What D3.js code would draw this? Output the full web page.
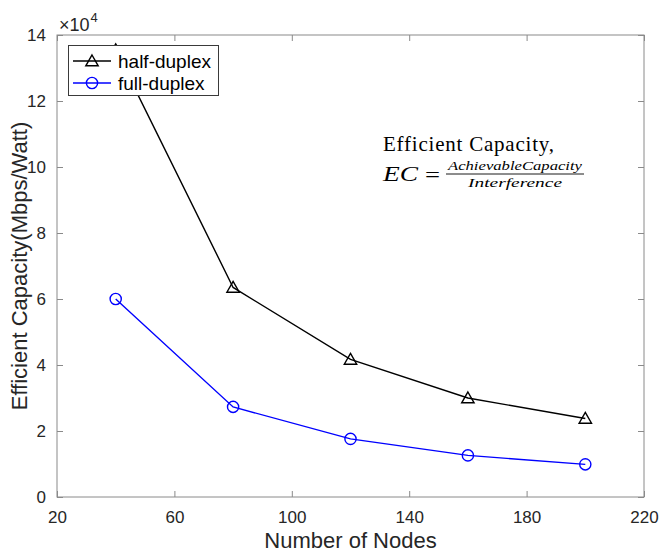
<!DOCTYPE html>
<html><head><meta charset="utf-8">
<script src="https://cdn.jsdelivr.net/npm/d3@7"></script>
<style>body{margin:0;background:#fff;} svg{display:block;}</style>
</head><body>
<script>
const nodes = [40, 80, 120, 160, 200];
const halfDuplex = [135500, 63500, 41700, 30000, 23800];
const fullDuplex = [60000, 27300, 17600, 12600, 9900];
const xTicks = [20, 60, 100, 140, 180, 220];
const yTicks = [0, 20000, 40000, 60000, 80000, 100000, 120000, 140000];
const seriesNames = ["half-duplex", "full-duplex"];

const W = 661, H = 552;
const L = 57, R = 644, T = 35, B = 497;
const svg = d3.select("body").append("svg").attr("width", W).attr("height", H);
const x = d3.scaleLinear().domain([20, 220]).range([L, R]);
const y = d3.scaleLinear().domain([0, 140000]).range([B, T]);
const axisCol = "#8a8a8a", textCol = "#262626";
const font = "'Liberation Sans', Arial, Helvetica, sans-serif";

// frame
svg.append("rect").attr("x", L).attr("y", T).attr("width", R - L).attr("height", B - T)
  .attr("fill", "none").attr("stroke", axisCol).attr("stroke-width", 1);

// axes via d3
const tl = 6;
const xb = svg.append("g").attr("transform", `translate(0,${B})`)
  .call(d3.axisBottom(x).tickValues(xTicks).tickSizeInner(-tl).tickSizeOuter(0).tickPadding(14));
const xt = svg.append("g").attr("transform", `translate(0,${T})`)
  .call(d3.axisTop(x).tickValues(xTicks).tickSizeInner(-tl).tickSizeOuter(0).tickFormat(""));
const yl = svg.append("g").attr("transform", `translate(${L},0)`)
  .call(d3.axisLeft(y).tickValues(yTicks).tickSizeInner(-tl).tickSizeOuter(0).tickPadding(11).tickFormat(d => d / 10000));
const yr = svg.append("g").attr("transform", `translate(${R},0)`)
  .call(d3.axisRight(y).tickValues(yTicks).tickSizeInner(-tl).tickSizeOuter(0).tickFormat(""));
[xb, xt, yl, yr].forEach(g => {
  g.select(".domain").remove();
  g.selectAll("line").attr("stroke", axisCol);
  g.selectAll("text").attr("fill", textCol).style("font-family", font).style("font-size", "17px");
});

// exponent
const ex = svg.append("text").attr("x", 59).attr("y", 31).attr("fill", textCol)
  .style("font-family", font).style("font-size", "18px");
ex.append("tspan").text("×10");
ex.append("tspan").attr("dy", -9).attr("dx", 1).style("font-size", "13px").text("4");

// axis labels
svg.append("text").attr("x", (L + R) / 2).attr("y", 548).attr("text-anchor", "middle")
  .attr("fill", textCol).style("font-family", font).style("font-size", "22px").text("Number of Nodes");
svg.append("text").attr("transform", `translate(27,${(T + B) / 2}) rotate(-90)`).attr("text-anchor", "middle")
  .attr("fill", textCol).style("font-family", font).style("font-size", "22px").text("Efficient Capacity(Mbps/Watt)");

// lines
const line = d3.line().x((d, i) => x(nodes[i])).y(d => y(d));
svg.append("path").datum(halfDuplex).attr("d", line).attr("fill", "none").attr("stroke", "#000").attr("stroke-width", 1.4);
svg.append("path").datum(fullDuplex).attr("d", line).attr("fill", "none").attr("stroke", "#0000ff").attr("stroke-width", 1.4);

function tri(cx, cy) { return `M${cx},${cy - 6}L${cx + 6.2},${cy + 4.8}L${cx - 6.2},${cy + 4.8}Z`; }
svg.selectAll(".tri").data(halfDuplex).enter().append("path")
  .attr("d", (d, i) => tri(x(nodes[i]), y(d))).attr("fill", "none").attr("stroke", "#000").attr("stroke-width", 1.4);
svg.selectAll(".circ").data(fullDuplex).enter().append("circle")
  .attr("cx", (d, i) => x(nodes[i])).attr("cy", d => y(d)).attr("r", 5.6)
  .attr("fill", "none").attr("stroke", "#0000ff").attr("stroke-width", 1.4);

// legend
const lg = svg.append("g");
lg.append("rect").attr("x", 68.5).attr("y", 45.5).attr("width", 150).attr("height", 50)
  .attr("fill", "#fff").attr("stroke", "#3a3a3a").attr("stroke-width", 1);
const cols = ["#000", "#0000ff"];
seriesNames.forEach((name, i) => {
  const yy = 61 + i * 22;
  lg.append("line").attr("x1", 73).attr("x2", 111).attr("y1", yy).attr("y2", yy).attr("stroke", cols[i]).attr("stroke-width", 1.4);
  if (i === 0) lg.append("path").attr("d", tri(92, yy)).attr("fill", "none").attr("stroke", "#000").attr("stroke-width", 1.4);
  else lg.append("circle").attr("cx", 92).attr("cy", yy).attr("r", 5.6).attr("fill", "none").attr("stroke", cols[i]).attr("stroke-width", 1.4);
  lg.append("text").attr("x", 118).attr("y", yy + 6.5).attr("fill", "#000")
    .style("font-family", font).style("font-size", "19px").text(name);
});

// annotation
const serif = "'Liberation Serif', 'Times New Roman', serif";
svg.append("text").attr("x", 383).attr("y", 151).attr("fill", "#000").style("font-family", serif).style("font-size", "21px")
  .attr("textLength", 171).attr("lengthAdjust", "spacing").text("Efficient Capacity,");
svg.append("text").attr("x", 383).attr("y", 181).attr("fill", "#000").style("font-family", serif).style("font-size", "21px")
  .style("font-style", "italic").attr("textLength", 35).attr("lengthAdjust", "spacingAndGlyphs").text("EC");
svg.append("text").attr("x", 432.5).attr("y", 182).attr("text-anchor", "middle").attr("fill", "#000").style("font-family", serif).style("font-size", "21px")
  .attr("textLength", 15).attr("lengthAdjust", "spacingAndGlyphs").text("=");
svg.append("text").attr("x", 515).attr("y", 170).attr("text-anchor", "middle").attr("fill", "#000").style("font-family", serif).style("font-size", "13px")
  .style("font-style", "italic").attr("textLength", 134).attr("lengthAdjust", "spacingAndGlyphs").text("AchievableCapacity");
svg.append("line").attr("x1", 446).attr("x2", 584).attr("y1", 174).attr("y2", 174).attr("stroke", "#000").attr("stroke-width", 0.9);
svg.append("text").attr("x", 515).attr("y", 187).attr("text-anchor", "middle").attr("fill", "#000").style("font-family", serif).style("font-size", "13px")
  .style("font-style", "italic").attr("textLength", 94).attr("lengthAdjust", "spacingAndGlyphs").text("Interference");
</script>
</body></html>
